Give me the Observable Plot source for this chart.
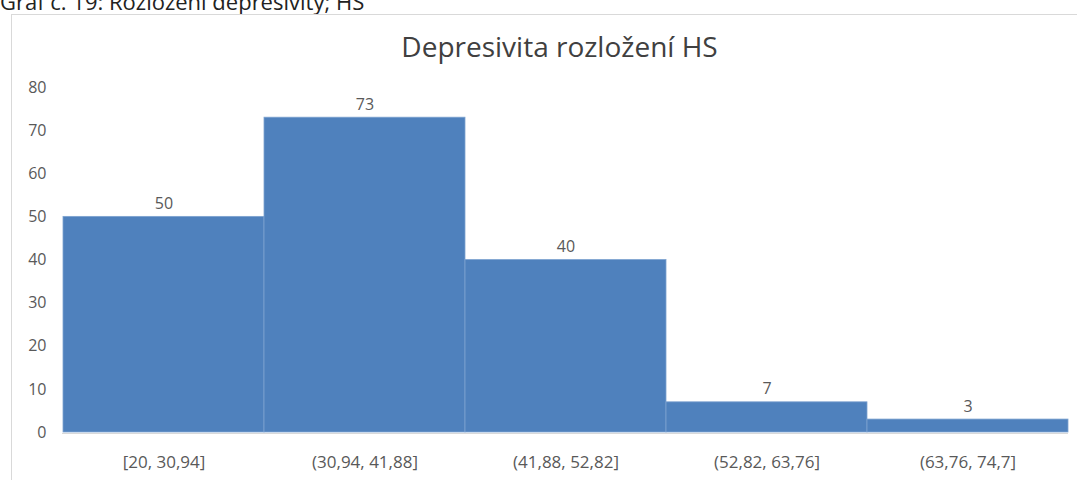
<!DOCTYPE html>
<html>
<head>
<meta charset="utf-8">
<script src="https://cdn.jsdelivr.net/npm/d3@7"></script>
<script src="https://cdn.jsdelivr.net/npm/@observablehq/plot@0.6"></script>
<style>
  html, body { margin: 0; padding: 0; background: #fff; width: 1077px; height: 480px; overflow: hidden; }
  body { font-family: "Open Sans", sans-serif; }
  #caption { height: 14px; overflow: hidden; position: relative; }
  #caption span { position: absolute; left: 0; top: -13px; font-size: 22px; line-height: 28px; color: #222; white-space: nowrap; }
  #frame { margin-left: 11px; border-left: 1px solid #d9d9d9; border-top: 1px solid #d9d9d9; height: 466px; position: relative; }
  #title { height: 55px; line-height: 62px; font-size: 28px; color: #404040; text-align: center; padding-left: 30px; box-sizing: border-box; width: 1065px; }
  #chart { position: absolute; left: -12px; top: 55px; }
</style>
</head>
<body>
<div id="caption"><span>Graf č. 19: Rozložení depresivity; HS</span></div>
<div id="frame">
  <div id="title">Depresivita rozložení HS</div>
  <div id="chart"></div>
</div>
<script>
const categories = ["[20, 30,94]", "(30,94, 41,88]", "(41,88, 52,82]", "(52,82, 63,76]", "(63,76, 74,7]"];
const counts = [50, 73, 40, 7, 3];
const yTicks = [0, 10, 20, 30, 40, 50, 60, 70, 80];

const data = categories.map((c, i) => ({bin: c, count: counts[i]}));

const chart = Plot.plot({
  width: 1077,
  height: 410,
  marginLeft: 62,
  marginRight: 9,
  marginTop: 17,
  marginBottom: 48,
  style: { fontFamily: "'Open Sans', sans-serif", fontSize: "16px", color: "#595959", background: "transparent" },
  x: { domain: categories, padding: 0, label: null, tickSize: 0, tickPadding: 23, tickFormat: d => d },
  y: { domain: [0, 80], ticks: yTicks, label: null, tickSize: 0, tickPadding: 16 },
  marks: [
    Plot.barY(data, { x: "bin", y: "count", fill: "#4f81bd", stroke: "#7ea3d0", strokeWidth: 0.8 }),
    Plot.ruleY([0], { stroke: "#d9d9d9", strokeWidth: 1.2, dy: 1 }),
    Plot.text(data, { x: "bin", y: "count", text: d => String(d.count), dy: -13, fill: "#595959", fontSize: 16 })
  ]
});
chart.querySelectorAll("[aria-label='x-axis tick label'] text").forEach(t => t.style.fontSize = "17px");
document.getElementById("chart").appendChild(chart);
</script>
</body>
</html>
